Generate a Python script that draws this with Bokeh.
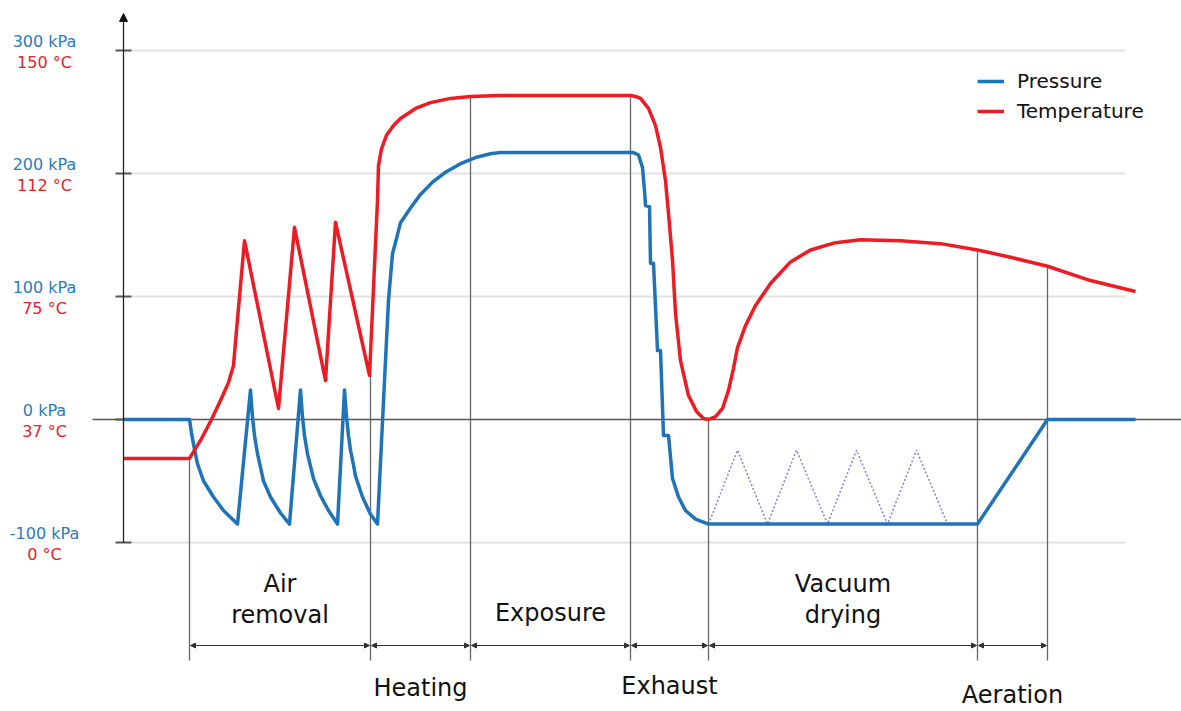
import numpy as np
from bokeh.plotting import figure
from bokeh.models import (ColumnDataSource, Arrow, NormalHead, Legend, LegendItem, Range1d)
from bokeh.embed import file_html
from bokeh.resources import INLINE
from bokeh.core.properties import value

# ---------------- data (time in arbitrary units) ----------------
pressure_time = [0, 66, 68, 70, 74, 80, 90, 100, 114,
                 127, 129, 131, 134, 137, 140, 147, 157, 166,
                 177, 179, 181, 184, 187, 190, 197, 205, 214,
                 221, 223, 225, 227, 230, 232, 239, 247, 254,
                 260, 265, 269, 273, 277, 287, 297, 309, 322, 337, 352, 367, 377,
                 510, 515, 519, 521, 522, 526, 527, 530, 534, 537, 540, 545,
                 549, 555, 562, 572, 585, 854, 924, 1012]
pressure_kpa = [0, 0, -11, -20, -36, -50, -63, -74, -85,
                24, 2, -13, -28, -39, -50, -63, -76, -85,
                24, 2, -13, -28, -38, -48, -62, -74, -85,
                24, 2, -13, -25, -37, -46, -63, -77, -85,
                15, 97, 135, 147, 160, 172, 183, 193, 201, 208, 213, 216, 217,
                217, 215, 205, 186, 174, 173, 127, 127, 56, 56, -13, -13,
                -48, -63, -74, -81, -85, -85, 0, 0]

temperature_time = [0, 66, 77, 87, 97, 105, 110, 113, 121,
                    155, 171, 202, 212, 246, 254, 255, 258, 263, 270, 277, 292, 307,
                    327, 347, 377, 507, 512, 517, 525, 532, 537, 542, 545, 549, 552,
                    557, 565, 573, 580, 585, 592, 599, 605, 610, 614, 622, 632,
                    647, 667, 687, 712, 737, 777, 817, 854, 887, 924, 967, 1012]
temperature_c = [25.3, 25.3, 30.7, 36.4, 42.9, 48.4, 53.7, 64.5, 91.8,
                 40.4, 95.8, 49.0, 97.3, 50.6, 103.9, 114.5, 119.6, 123.8, 126.8, 129.0, 132.1, 133.9,
                 135.2, 135.8, 136.1, 136.1, 135.8, 135.2, 132.1, 126.8, 120.0, 109.8, 100.0, 86.0, 69.8,
                 55.2, 44.4, 39.5, 37.3, 37.0, 37.9, 40.4, 46.0, 52.8, 59.2, 66.0, 72.2,
                 78.9, 85.4, 89.0, 91.2, 92.1, 91.8, 90.9, 89.0, 86.8, 84.1, 79.8, 76.5]

vacuum_pulse_time = [585, 614, 644, 673, 704, 733, 764, 793, 824]
vacuum_pulse_kpa = [-85, -25, -85, -25, -85, -25, -85, -25, -85]

phase_bounds = [66, 247, 347, 507, 585, 854, 924]
phase_names = ["Air removal", "Heating", "Exposure", "Exhaust", "Vacuum drying", "Aeration"]

kpa_ticks = [-100, 0, 100, 200, 300]
kpa_labels = ["-100 kPa", "0 kPa", "100 kPa", "200 kPa", "300 kPa"]
degc_ticks = [0, 37, 75, 112, 150]
degc_labels = ["0 \u00b0C", "37 \u00b0C", "75 \u00b0C", "112 \u00b0C", "150 \u00b0C"]

# ---------------- layout / style ----------------
W, H = 1181, 711
PXY = 1.23                       # screen px per kPa
def yk(py):                      # screen y (px) -> kPa
    return (419 - py) / PXY

BLUE = "#1f74b9"
RED = "#ed1c24"
LBLUE = "#2a7bbf"
LRED = "#e8202a"
FONT = "DejaVu Sans"
TICK_FS = 16
PHASE_FS = 24
BASE_FIX = 0.35   # em correction for where the svg text baseline lands

p = figure(width=W, height=H, output_backend="svg", toolbar_location=None,
           x_range=Range1d(-123, -123 + W), y_range=Range1d(yk(H), yk(0)),
           x_axis_location=None, y_axis_location=None, min_border=0,
           outline_line_color=None, background_fill_color="white")
p.grid.visible = False

temp_axis = np.interp(temperature_c, degc_ticks, kpa_ticks)

# grid lines and ticks
grid_vals = [v for v in kpa_ticks if v != 0]
p.segment(x0=[8] * len(grid_vals), y0=grid_vals, x1=[1002] * len(grid_vals), y1=grid_vals,
          line_color="#e2e2e2", line_width=2)
p.segment(x0=[-31], y0=[0], x1=[1060], y1=[0], line_color="#555555", line_width=1.5)
p.segment(x0=[-8] * len(kpa_ticks), y0=kpa_ticks, x1=[8] * len(kpa_ticks), y1=kpa_ticks,
          line_color="#555555", line_width=2)

# y axis with arrow
p.add_layout(Arrow(end=NormalHead(size=8, fill_color="#111111", line_color="#111111", line_width=1),
                   x_start=0, y_start=-100, x_end=0, y_end=yk(13),
                   line_color="#222222", line_width=1.3))

# tick labels
p.text(x=[-79] * len(kpa_ticks), y=[v + (3 + BASE_FIX * TICK_FS) / PXY for v in kpa_ticks],
       text=kpa_labels, text_font=value(FONT), text_font_size=f"{TICK_FS}px", text_color=LBLUE,
       text_align="center", text_baseline="alphabetic")
p.text(x=[-79] * len(kpa_ticks), y=[v - (18 - BASE_FIX * TICK_FS) / PXY for v in kpa_ticks],
       text=degc_labels, text_font=value(FONT), text_font_size=f"{TICK_FS}px", text_color=LRED,
       text_align="center", text_baseline="alphabetic")

# phase boundary lines
bottom = yk(660)
tops = np.interp(phase_bounds, temperature_time, temp_axis)
p.segment(x0=phase_bounds, y0=[bottom] * len(phase_bounds), x1=phase_bounds, y1=tops,
          line_color="#666666", line_width=1.3)

# double arrows
arrow_src = ColumnDataSource(dict(x0=[b + 1 for b in phase_bounds[:-1]],
                                  x1=[b - 1 for b in phase_bounds[1:]],
                                  y=[yk(645)] * (len(phase_bounds) - 1)))
p.add_layout(Arrow(start=NormalHead(size=5, fill_color="#333333", line_color="#333333"),
                   end=NormalHead(size=5, fill_color="#333333", line_color="#333333"),
                   x_start="x0", y_start="y", x_end="x1", y_end="y", source=arrow_src,
                   line_color="#333333", line_width=1))

# phase labels
centers = [(a + b) / 2 for a, b in zip(phase_bounds[:-1], phase_bounds[1:])]
label_rows = {
    "Air removal": [("Air", 592), ("removal", 623)],
    "Heating": [("Heating", 696)],
    "Exposure": [("Exposure", 621)],
    "Exhaust": [("Exhaust", 694)],
    "Vacuum drying": [("Vacuum", 592), ("drying", 623)],
    "Aeration": [("Aeration", 703)],
}
lx, ly, lt = [], [], []
for c, name in zip(centers, phase_names):
    for txt, base in label_rows[name]:
        lx.append(c)
        ly.append(yk(base - BASE_FIX * PHASE_FS))
        lt.append(txt)
p.text(x=lx, y=ly, text=lt, text_font=value(FONT), text_font_size=f"{PHASE_FS}px",
       text_color="#111111", text_align="center", text_baseline="alphabetic")

# vacuum pulses (dotted)
p.line(vacuum_pulse_time, vacuum_pulse_kpa, line_color="#8a80c8", line_width=1.5, line_dash="2 2")

# curves
r_p = p.line(pressure_time, pressure_kpa, line_color=BLUE, line_width=3.5, line_join="round")
r_t = p.line(temperature_time, temp_axis, line_color=RED, line_width=3.5, line_join="round")

legend = Legend(items=[LegendItem(label="Pressure", renderers=[r_p]),
                       LegendItem(label="Temperature", renderers=[r_t])],
                location=(977, 588), glyph_width=27, glyph_height=20, label_height=20,
                spacing=6, padding=0, margin=0, label_standoff=13,
                border_line_color=None, background_fill_alpha=0,
                label_text_font=FONT, label_text_font_size="20px", label_text_color="#111111")
p.add_layout(legend)

open("out.html", "w").write(file_html(p, INLINE))
